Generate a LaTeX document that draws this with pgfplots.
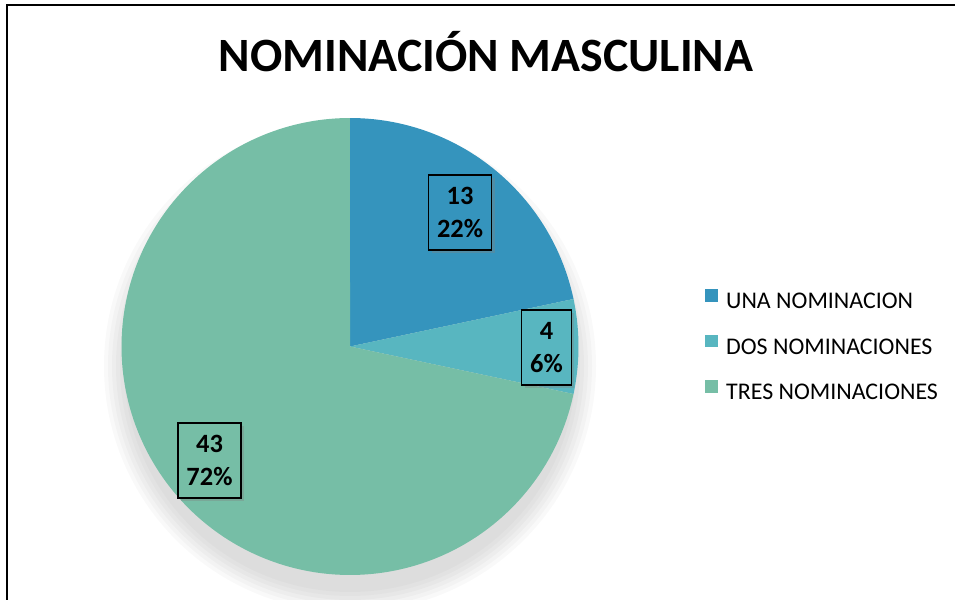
\documentclass[border=0pt]{standalone}
\usepackage{pgfplots}
\pgfplotsset{compat=1.18}
\usepackage{fontspec}
\setmainfont{Carlito}
\usetikzlibrary{shadows}
\definecolor{cA}{HTML}{3594BD}
\definecolor{cB}{HTML}{58B6C0}
\definecolor{cC}{HTML}{76BEA6}

% data
\def\vA{13}\def\vB{4}\def\vC{43}
\def\cx{350}\def\cy{346.5}\def\R{228.5}
\pgfmathsetmacro{\tot}{\vA+\vB+\vC}
\pgfmathsetmacro{\aA}{90}
\pgfmathsetmacro{\aB}{\aA-\vA/\tot*360}
\pgfmathsetmacro{\aC}{\aB-\vB/\tot*360}
\pgfmathsetmacro{\aD}{\aC-\vC/\tot*360}

\begin{document}
\begin{tikzpicture}
\begin{axis}[
  name=ax,
  width=955bp, height=600bp, scale only axis,
  xmin=0, xmax=955, ymin=0, ymax=600,
  y dir=reverse,
  hide axis, clip=false,
  area legend,
  legend image code/.code={\fill[#1] (0bp,1.5bp) rectangle (13bp,14bp);},
  legend style={
    at={(705/955,{1-347/600})}, anchor=west,
    draw=none, fill=none, inner sep=0pt,
    font=\fontsize{24}{28}\selectfont,
    row sep=21bp,
    nodes={inner sep=0pt, text height=16bp, text depth=5bp},
    /tikz/every odd column/.append style={column sep=8bp},
  },
  legend cell align=left,
]
% pie shadow
\pgfplotsinvokeforeach{226,230,234,238,242,246}{
  \fill[black, opacity=0.022] (axis cs:350,366) circle[radius=#1 bp];
}
\addplot[fill=cA, draw=none, domain=\aB:\aA, samples=80, variable=\t]
  ({\cx+\R*cos(\t)},{\cy-\R*sin(\t)}) -- (axis cs:\cx,\cy) -- cycle;
\addlegendentry{UNA NOMINACION}
\addplot[fill=cB, draw=none, domain=\aC:\aB, samples=30, variable=\t]
  ({\cx+\R*cos(\t)},{\cy-\R*sin(\t)}) -- (axis cs:\cx,\cy) -- cycle;
\addlegendentry{DOS NOMINACIONES}
\addplot[fill=cC, draw=none, domain=\aD:\aC, samples=200, variable=\t]
  ({\cx+\R*cos(\t)},{\cy-\R*sin(\t)}) -- (axis cs:\cx,\cy) -- cycle;
\addlegendentry{TRES NOMINACIONES}

\tikzset{lbl/.style={draw=black, line width=1.6bp, fill=#1, align=center,
  font=\bfseries\fontsize{26.5}{33}\selectfont, minimum height=75bp, inner xsep=8.5bp,
  drop shadow={opacity=0.35, shadow xshift=3bp, shadow yshift=-3bp}}}
\node[lbl=cA] at (axis cs:460,212.5) {13\\22\%};
\node[lbl=cB] at (axis cs:546.5,347.5) {4\\6\%};
\node[lbl=cC] at (axis cs:209.5,460.5) {43\\72\%};

\node[font=\bfseries\fontsize{48}{56}\selectfont, anchor=base, inner sep=0pt]
  at (axis cs:486,72) {NOMINACIÓN MASCULINA};

\draw[line width=2bp] (axis cs:7,600) -- (axis cs:7,5) -- (axis cs:955,5);
\end{axis}
\pgfresetboundingbox
\path[use as bounding box] (ax.south west) rectangle (ax.north east);
\end{tikzpicture}
\end{document}
